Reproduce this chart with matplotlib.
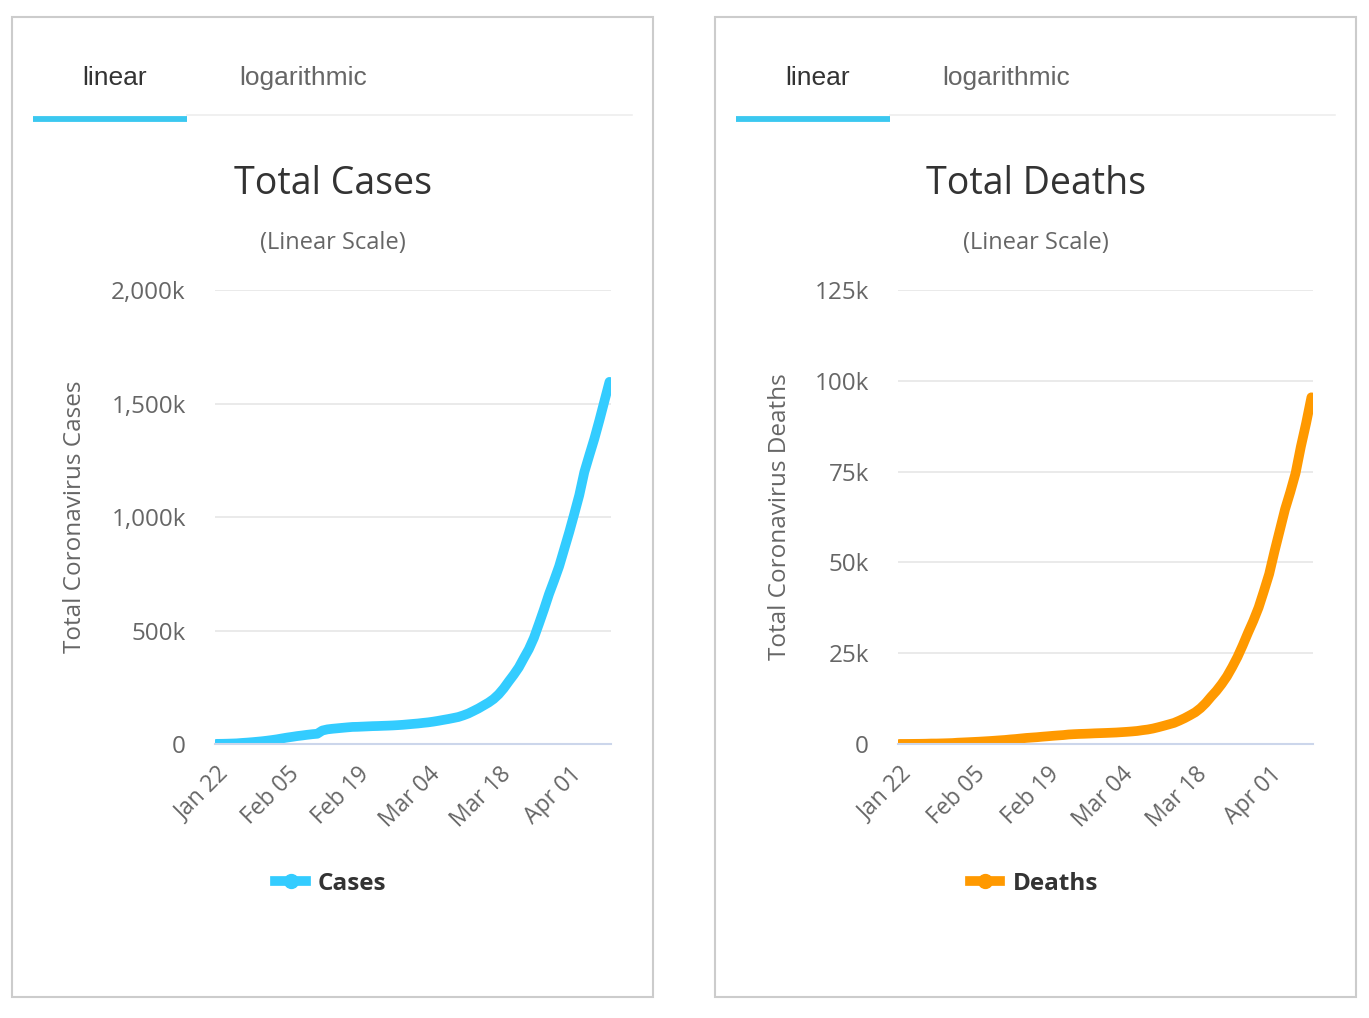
import matplotlib
matplotlib.use("Agg")
import matplotlib.pyplot as plt
from matplotlib.patches import Rectangle
from matplotlib.lines import Line2D
import matplotlib.ticker as mticker
import matplotlib.transforms as mtransforms

# Daily global totals, Jan 22 - Apr 09
cases = [580, 845, 1317, 2015, 2800, 4581, 6058, 7813, 9823, 11950,
         14553, 17391, 20630, 24545, 28266, 31439, 34876, 37552, 40553, 43099,
         45134, 59287, 64438, 67100, 69197, 71329, 73332, 75184, 75700, 76677,
         77673, 78651, 79205, 80087, 80828, 81820, 83112, 84615, 86604,
         88585, 90443, 93016, 95314, 98425, 102050, 106099, 109991, 114381, 118948,
         126214, 134576, 145483, 156653, 169593, 182490, 198238, 218822, 244933, 275597,
         305036, 337489, 378287, 417966, 467594, 529591, 593291, 660706, 720117, 782365,
         857487,
         932605, 1013157, 1095917, 1197405, 1272115, 1345048, 1426096, 1511104, 1595350]

deaths = [17, 18, 26, 42, 56, 82, 131, 133, 171, 213,
          259, 362, 426, 492, 564, 634, 719, 806, 906, 1013,
          1113, 1260, 1371, 1523, 1666, 1770, 1868, 2007, 2122, 2250,
          2360, 2460, 2618, 2700, 2770, 2814, 2872, 2941, 2990,
          3040, 3100, 3160, 3254, 3348, 3460, 3590, 3802, 3988, 4262,
          4615, 5000, 5404, 5819, 6440, 7126, 7905, 8733, 9867, 11299,
          13015, 14623, 16497, 18615, 21181, 23970, 27198, 30652, 33925, 37582,
          42107,
          46809, 52983, 58787, 64606, 69374, 74565, 81865, 88338, 95455]

days = list(range(len(cases)))
tick_days = [0, 14, 28, 42, 56, 70]
tick_labels = ["Jan 22", "Feb 05", "Feb 19", "Mar 04", "Mar 18", "Apr 01"]

cases_ticks = [0, 500000, 1000000, 1500000, 2000000]
deaths_ticks = [0, 25000, 50000, 75000, 100000, 125000]

W, H = 1369, 1018
fig = plt.figure(figsize=(W / 100, H / 100), dpi=100)
fig.patch.set_facecolor("white")

FONT = "Open Sans"
TAB_FONT = "Liberation Sans"
TAB_BLUE = "#3bc8f0"


def fx(px):
    return px / W


def fy(py):
    return 1 - py / H


def k_fmt(v, p):
    if v == 0:
        return "0"
    return format(int(v / 1000), ",") + "k"


def draw_panel(x0, ax_left, ax_right, values, ticks, color, title, ylabel, ylabel_x, legend_name):
    # card border
    fig.patches.append(Rectangle((fx(x0 + 12), fy(997)), fx(641), 980 / H,
                                 transform=fig.transFigure, fill=False,
                                 edgecolor="#cccccc", linewidth=1.5))
    # tabs
    fig.text(fx(x0 + 115), fy(78), "linear", ha="center", va="center",
             fontsize=19, color="#333333", family=TAB_FONT)
    fig.text(fx(x0 + 303), fy(78), "logarithmic", ha="center", va="center",
             fontsize=19, color="#666666", family=TAB_FONT)
    fig.add_artist(Line2D([fx(x0 + 187), fx(x0 + 632)], [fy(115), fy(115)],
                          color="#eeeeee", linewidth=1.2))
    fig.add_artist(Line2D([fx(x0 + 33), fx(x0 + 187)], [fy(118.5), fy(118.5)],
                          color=TAB_BLUE, linewidth=4.2, solid_capstyle="butt"))
    # titles
    fig.text(fx(x0 + 333), fy(184), title, ha="center", va="center",
             fontsize=27, color="#333333", family=FONT)
    fig.text(fx(x0 + 333), fy(243), "(Linear Scale)", ha="center", va="center",
             fontsize=17, color="#666666", family=FONT)

    ax = fig.add_axes([fx(ax_left), fy(744), fx(ax_right - ax_left), 454 / H])
    ax.plot(days, values, color=color, linewidth=7, solid_capstyle="round",
            solid_joinstyle="round")
    ax.set_xlim(-0.3, len(days) - 0.7)
    ax.set_ylim(0, ticks[-1])
    ax.set_yticks(ticks)
    ax.yaxis.set_major_formatter(mticker.FuncFormatter(k_fmt))
    ax.set_xticks(tick_days)
    ax.set_xticklabels(tick_labels, rotation=45, ha="right",
                       rotation_mode="anchor", family=FONT, fontsize=16.5,
                       color="#666666")
    shift = mtransforms.ScaledTranslation(-6 / 100, -3 / 100, fig.dpi_scale_trans)
    for lab in ax.get_xticklabels():
        lab.set_transform(lab.get_transform() + shift)
    for lab in ax.get_yticklabels():
        lab.set_family(FONT)
        lab.set_fontsize(17.5)
        lab.set_color("#666666")
    ax.tick_params(axis="both", length=0)
    ax.tick_params(axis="y", pad=21)
    ax.tick_params(axis="x", pad=13)
    ax.grid(axis="y", color="#e6e6e6", linewidth=1.2)
    ax.set_axisbelow(True)
    for s in ["top", "right", "left"]:
        ax.spines[s].set_visible(False)
    ax.spines["bottom"].set_color("#ccd6eb")
    ax.spines["bottom"].set_linewidth(1.5)
    ax.set_ylabel(ylabel, family=FONT, fontsize=17.5, color="#666666",
                  va="center")
    ax.yaxis.set_label_coords((fx(ylabel_x) - fx(ax_left)) / fx(ax_right - ax_left), 0.5)

    handle = Line2D([], [], color=color, linewidth=7, marker="o", markersize=10)
    ax.legend([handle], [legend_name], loc="center",
              bbox_to_anchor=(fx(x0 + 331), fy(884)), bbox_transform=fig.transFigure,
              frameon=False, handlelength=1.25, handletextpad=0.5,
              prop={"family": FONT, "weight": "bold", "size": 17.5})
    for t in ax.get_legend().get_texts():
        t.set_color("#333333")
    return ax


draw_panel(0, 215, 611, cases, cases_ticks, "#33ccff", "Total Cases",
           "Total Coronavirus Cases", 75, "Cases")
draw_panel(703, 898, 1313, deaths, deaths_ticks, "#ff9900", "Total Deaths",
           "Total Coronavirus Deaths", 780, "Deaths")

fig.savefig("out.png", dpi=100, facecolor="white")
